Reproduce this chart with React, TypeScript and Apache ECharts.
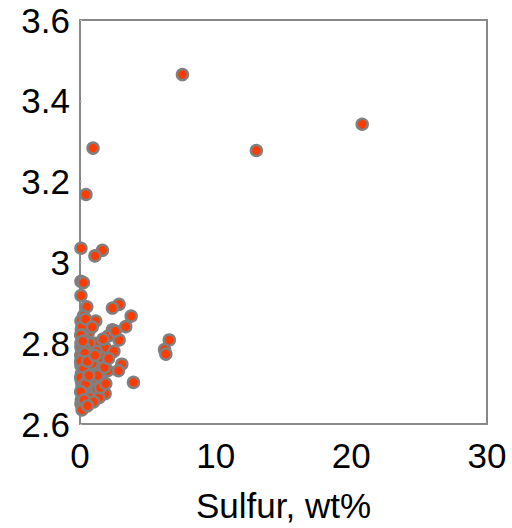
import React, { useEffect, useRef } from "react";
import * as echarts from "echarts";

const sulfur: number[] = [
  7.55, 13.0, 20.8, 0.96, 0.44,
  0.07, 1.65, 1.1, 0.07, 0.25, 0.07, 0.5, 2.88, 2.39, 0.25, 0.07, 1.16, 3.77, 3.37, 2.39,
  2.88, 2.1, 6.58, 6.23, 6.33, 1.1, 1.85, 0.32, 1.3, 3.08, 2.83, 2.04, 3.94, 1.65, 0.86,
  1.85, 0.98, 0.07, 0.61, 0.07, 0.07, 0.07, 0.1, 0.1, 0.25, 0.25, 0.37, 0.74, 0.98, 0.74,
  1.23, 0.61, 0.1, 0.15, 0.2, 0.3, 0.5, 0.05, 0.15, 0.4, 0.6, 0.2, 0.5, 0.15, 0.45, 0.8,
  0.1, 0.3, 0.15, 1.4, 1.6, 2.5, 1.3, 1.8, 0.9, 1.2, 0.7, 0.4, 0.3, 2.1, 1.5, 0.9, 1.7, 2.6,
  0.05, 0.2, 0.35, 0.05, 0.25, 0.55, 0.05, 0.2, 0.4, 0.65, 1.0, 0.05, 0.3, 1.9, 1.1, 0.55,
];
const density: number[] = [
  3.465, 3.277, 3.342, 3.283, 3.168,
  3.035, 3.03, 3.016, 2.953, 2.95, 2.918, 2.89, 2.896, 2.887, 2.867, 2.855, 2.855, 2.867, 2.841, 2.833,
  2.808, 2.818, 2.808, 2.784, 2.773, 2.8, 2.789, 2.762, 2.744, 2.748, 2.732, 2.732, 2.703, 2.703, 2.703,
  2.675, 2.679, 2.65, 2.662, 2.8, 2.79, 2.745, 2.724, 2.707, 2.69, 2.67, 2.654, 2.769, 2.724, 2.69,
  2.687, 2.826, 2.834, 2.84, 2.82, 2.81, 2.78, 2.77, 2.76, 2.74, 2.73, 2.715, 2.71, 2.695, 2.68, 2.665,
  2.66, 2.645, 2.635, 2.665, 2.765, 2.78, 2.72, 2.74, 2.75, 2.78, 2.8, 2.86, 2.79, 2.762, 2.69, 2.84, 2.81, 2.83,
  2.82, 2.805, 2.775, 2.755, 2.735, 2.755, 2.715, 2.685, 2.7, 2.72, 2.655, 2.68, 2.66, 2.7, 2.77, 2.645,
];
const xTicks = { min: 0, max: 30, interval: 10 };
const yTicks = { min: 2.6, max: 3.6, interval: 0.2 };
const xName = "Sulfur, wt%";

export default function App() {
  const ref = useRef<HTMLDivElement>(null);
  useEffect(() => {
    if (!ref.current) return;
    const chart = echarts.init(ref.current, undefined, { renderer: "svg" });
    const data = sulfur.map((x, i) => [x, density[i]]);
    const font = "'Liberation Sans', Arial, Helvetica, sans-serif";
    const gray = "#888888";
    chart.setOption({
      animation: false,
      backgroundColor: "#ffffff",
      grid: {
        left: 80, top: 20, right: 25, bottom: 101,
        show: true, borderColor: gray, borderWidth: 2, backgroundColor: "transparent",
      },
      xAxis: {
        type: "value",
        min: xTicks.min, max: xTicks.max, interval: xTicks.interval,
        name: xName, nameLocation: "middle", nameGap: 64,
        nameTextStyle: { fontSize: 35, color: "#000", fontFamily: font },
        axisLine: { show: true, lineStyle: { color: gray, width: 2 } },
        axisTick: { show: false },
        splitLine: { show: false },
        axisLabel: { fontSize: 35, color: "#000", fontFamily: font, margin: 14 },
      },
      yAxis: {
        type: "value",
        min: yTicks.min, max: yTicks.max, interval: yTicks.interval,
        axisLine: { show: true, lineStyle: { color: gray, width: 2 } },
        axisTick: { show: true, inside: true, length: 2, lineStyle: { color: "#bbb" } },
        splitLine: { show: false },
        axisLabel: { fontSize: 35, color: "#000", fontFamily: font, margin: 10, padding: [6, 0, 0, 0] },
      },
      series: [
        {
          type: "scatter",
          data,
          symbol: "circle",
          symbolSize: 11,
          itemStyle: { color: "#ff3c00", borderColor: "#808080", borderWidth: 2.5, opacity: 1 },
        },
      ],
    });
    return () => chart.dispose();
  }, []);
  return (
    <div
      ref={ref}
      style={{ position: "fixed", left: 0, top: 0, width: 512, height: 528, background: "#fff" }}
    />
  );
}
